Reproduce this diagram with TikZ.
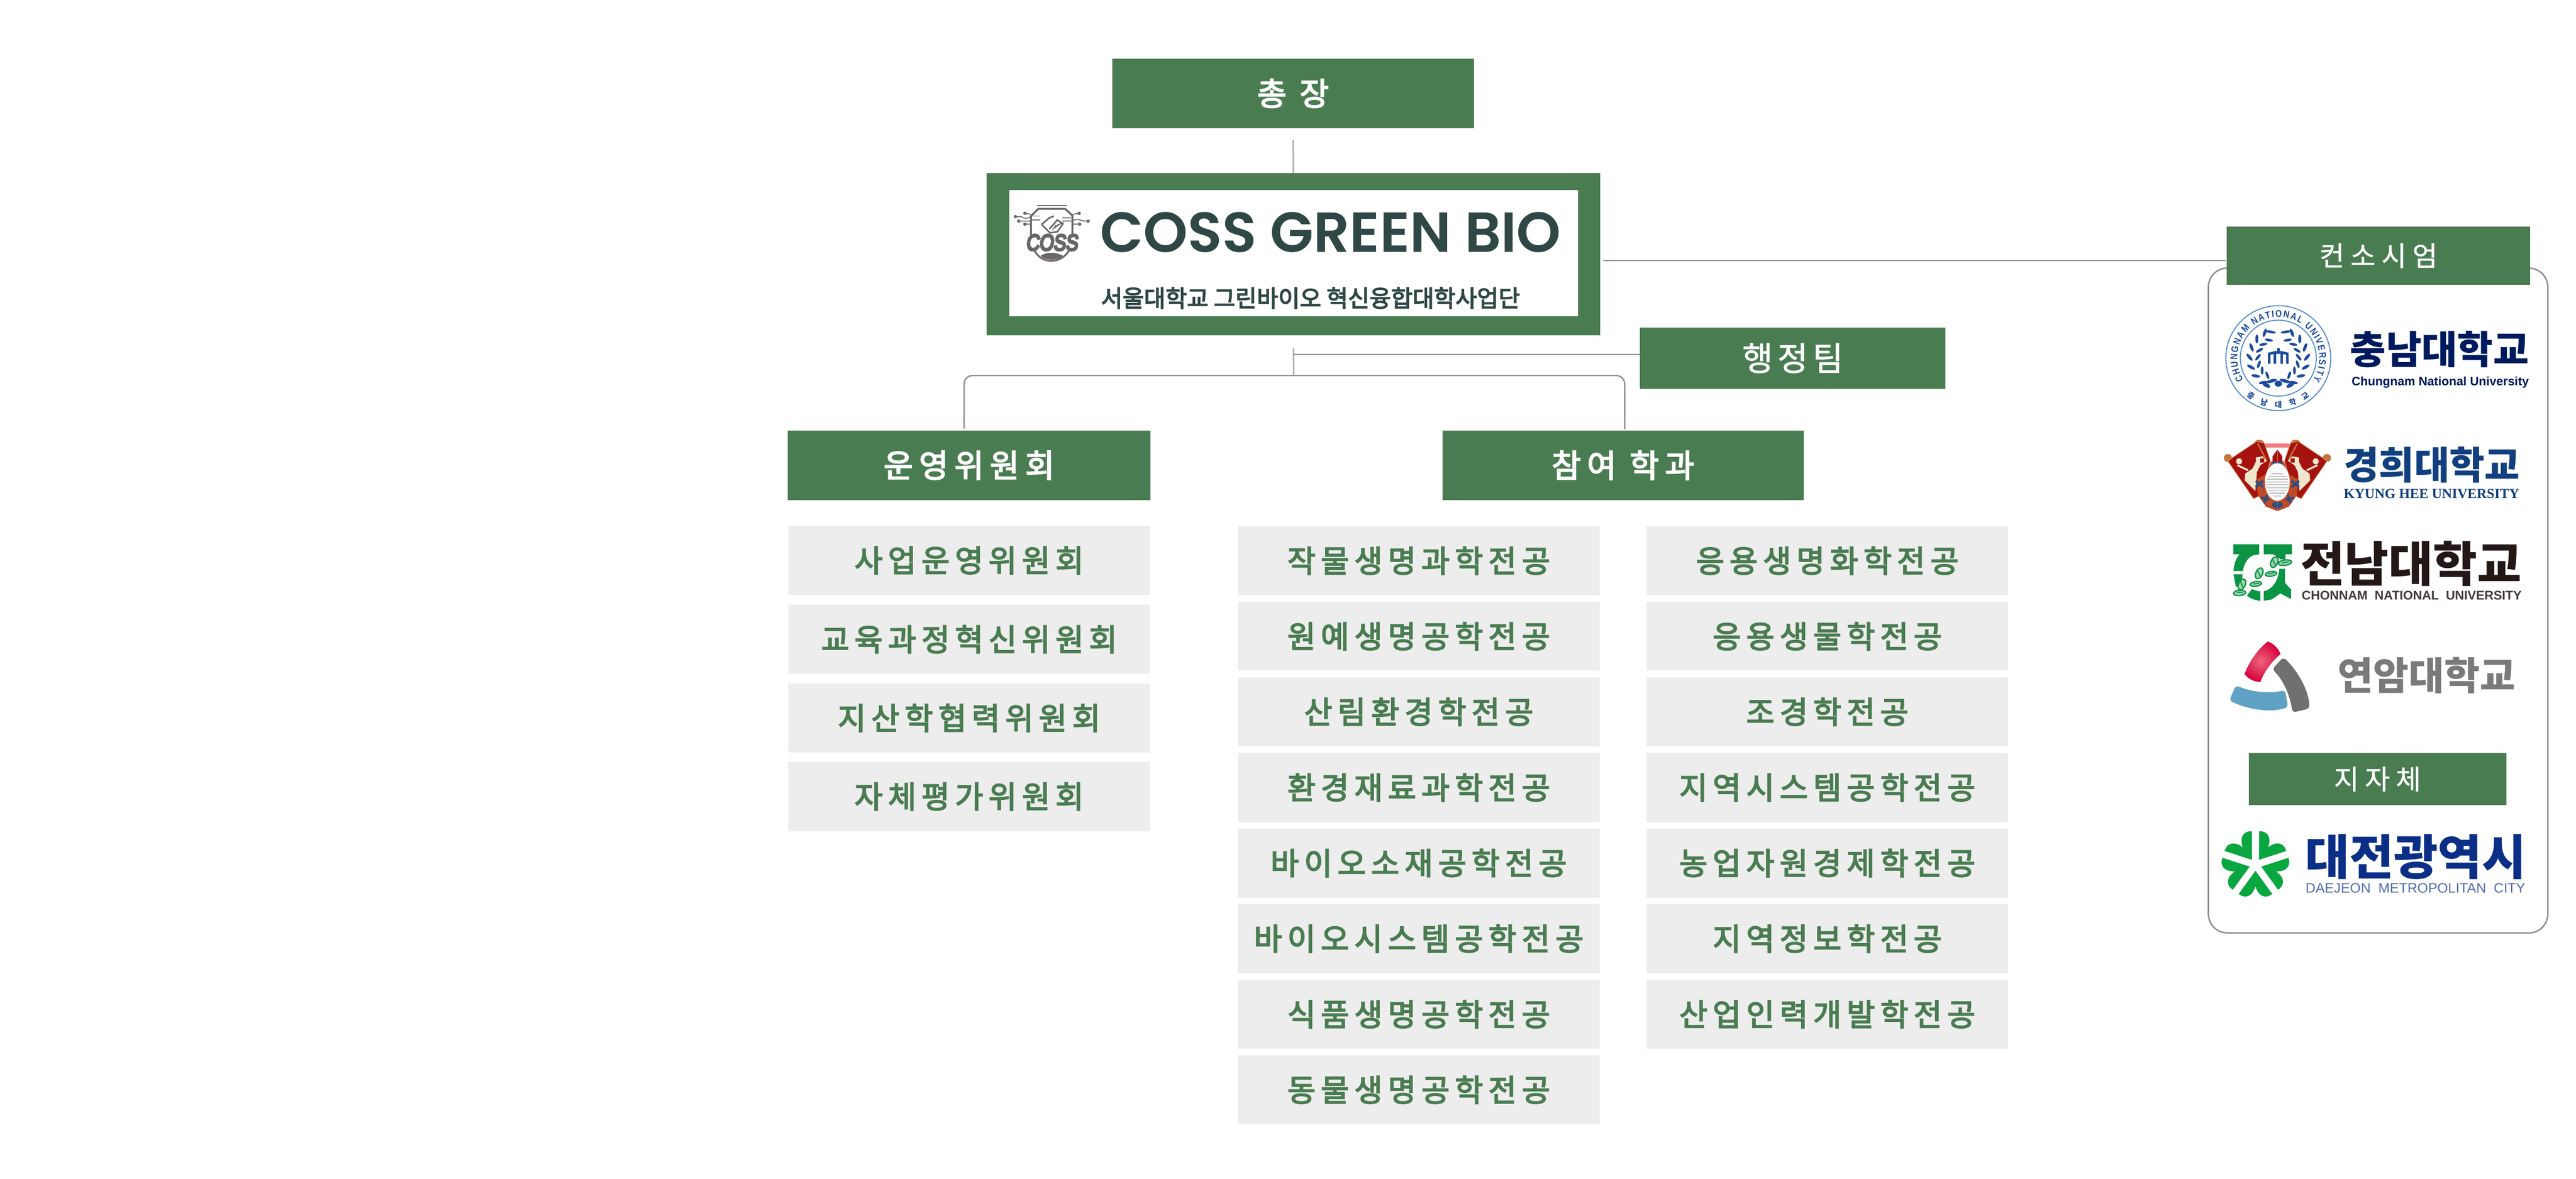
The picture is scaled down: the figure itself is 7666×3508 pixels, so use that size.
\documentclass[tikz,border=0pt]{standalone}
\usepackage{fontspec}
\usepackage{graphicx}
\usetikzlibrary{decorations.text}
\newfontfamily\kr{Noto Sans CJK KR}
\newfontfamily\krsp[LetterSpace=17,FakeBold=3.5]{Noto Sans CJK KR}
\newfontfamily\krw[LetterSpace=14,FakeBold=1.5]{Noto Sans CJK KR}
\newfontfamily\krhd[LetterSpace=19,FakeBold=3.5]{Noto Sans CJK KR}
\newfontfamily\krsm[LetterSpace=22,FakeBold=1]{Noto Sans CJK KR}
\newfontfamily\krmed[FakeBold=3.5]{Noto Sans CJK KR}
\newfontfamily\pop[UprightFont=* SemiBold]{Poppins}
\newfontfamily\lib{Liberation Sans}
\newfontfamily\libseal[FakeStretch=0.85]{Liberation Sans}
\newfontfamily\libx[FakeBold=9,FakeSlant=0.15]{Liberation Sans}
\newfontfamily\libs{Liberation Serif}
\newcommand{\fz}[1]{\fontsize{#1}{#1}\selectfont}
\definecolor{hdgreen}{HTML}{4A7C51}
\definecolor{lightgray}{HTML}{EDEDED}
\definecolor{linegray}{HTML}{ABABAB}
\definecolor{linedark}{HTML}{8C8C8C}
\definecolor{darkteal}{HTML}{2F4845}
\definecolor{emblemgray}{HTML}{6A6567}
\definecolor{cnunavy}{HTML}{001A5E}
\definecolor{cnuwreath}{HTML}{1C4A9C}
\definecolor{cnublue}{HTML}{5A8FD0}
\definecolor{khublue}{HTML}{123F7F}
\definecolor{khured}{HTML}{A5120F}
\definecolor{khutan}{HTML}{C4763A}
\definecolor{khuband}{HTML}{BE4A28}
\definecolor{khucream}{HTML}{F0E6CC}
\definecolor{khunavy}{HTML}{2A4F80}
\definecolor{jnugreen}{HTML}{0A9444}
\definecolor{jnublack}{HTML}{231815}
\definecolor{yared}{HTML}{D5003A}
\definecolor{yablue}{HTML}{5FA2C6}
\definecolor{yagray}{HTML}{707070}
\definecolor{djnavy}{HTML}{0B2F87}
\definecolor{djgreen}{HTML}{0AA640}
\tikzset{
  gbox/.style={fill=hdgreen,text=white,inner sep=0pt,align=center},
  lbox/.style={fill=lightgray,text=hdgreen,inner sep=0pt,align=center,minimum width=10.75cm,minimum height=2.05cm,font=\krsp\fz{26}},
  conn/.style={draw=linegray,line width=1.2pt},
  conndark/.style={draw=linedark,line width=1.1pt},
  logotext/.style={inner sep=0pt},
  emb/.style={draw=emblemgray,line width=.8pt},
  leaf/.style={fill=cnuwreath},
  jlink/.style={fill=jnugreen!40!white,draw=jnugreen,line width=1.1pt},
}
\newcommand{\khuhalf}{%
  \fill[khutan] (60,205) circle[radius=.12cm];
  \fill[khutan] (340,75) ellipse[x radius=.15cm,y radius=.11cm];
  \fill[khured,draw=khutan!60!khucream,line width=.5pt] (60,235) -- (95,205) -- (320,55) -- (385,70) -- (440,230) -- (390,400) -- (340,545) -- (290,570) -- cycle;
  \draw[khutan,line width=1.2pt] (325,75) -- (400,215);
  \fill[khuband] (445,235) -- (400,350) -- (310,400) -- (330,540) -- (400,640) -- (502,680) -- (502,235) -- cycle;
  \fill[khucream] (160,235) circle[radius=.09cm];
  \draw[khucream,line width=1.6pt] (145,270) -- (240,315);
  \fill[khucream] (310,200) -- (370,190) -- (410,230) -- (350,270) -- (320,330) -- (305,500) -- (210,405) -- (215,345) -- (280,300) -- (310,240) -- cycle;
  \fill[khured] (350,210) rectangle (385,245);
  \draw[khunavy,line width=2pt] (310,410) -- (375,465) (375,410) -- (310,465);
  \draw[khunavy,line width=2pt] (355,560) -- (430,580) (410,535) -- (385,610);
  \fill[khured] (460,190) -- (502,130) -- (502,240) -- (460,240) -- cycle;
  \fill[khunavy] (455,235) -- (502,245) -- (502,258) -- (460,255) -- cycle;
  \fill[khunavy] (490,255) rectangle (502,300);
  \fill[khunavy] (502,600) -- (465,600) -- (450,630) -- (502,660) -- cycle;
}
\begin{document}
\begin{tikzpicture}[x=0.01cm,y=-0.01cm]
\useasboundingbox (0,0) rectangle (7666,3508);
\fill[white] (0,0) rectangle (7666,3508);

% frame of the consortium
\draw[draw=linedark,line width=1.2pt,rounded corners=16pt] (6572,798) rectangle (7582,2777);

% main boxes
\node[gbox,minimum width=10.75cm,minimum height=2.07cm,font=\krhd\fz{27}] (chief) at (3848,278) {총 장};
\node[fill=hdgreen,minimum width=18.25cm,minimum height=4.82cm,inner sep=0pt] (coss) at (3849,757) {};
\node[fill=white,minimum width=16.91cm,minimum height=3.75cm,inner sep=0pt] (cossin) at (3850,753) {};
\node[logotext,text=darkteal] (cosstitle) at (3960,692) {\resizebox{13.7cm}{!}{\pop COSS GREEN BIO}};
\node[logotext,text=darkteal] (cosssub) at (3900,887) {\resizebox{12.46cm}{!}{\krmed 서울대학교 그린바이오 혁신융합대학사업단}};
\node[gbox,minimum width=9.08cm,minimum height=1.83cm,font=\krw\fz{28}] (admin) at (5335,1066) {행정팀};
\node[gbox,minimum width=10.79cm,minimum height=2.06cm,font=\krhd\fz{27}] (oper) at (2884,1385) {운영위원회};
\node[gbox,minimum width=10.75cm,minimum height=2.06cm,font=\krhd\fz{27}] (dept) at (4830,1385) {참여 학과};
\node[gbox,minimum width=9.02cm,minimum height=1.73cm,font=\krsm\fz{23}] (cons) at (7078,761) {컨소시엄};
\node[gbox,minimum width=7.66cm,minimum height=1.56cm,font=\krsm\fz{23}] (local) at (7075,2319) {지자체};

% connectors
\coordinate (tj) at (3850,1055);
\coordinate (bus) at (3850,1118);
\coordinate (dl) at (2869,1276);
\coordinate (dr) at (4835,1277);
\coordinate (ce) at (4771,776);
\coordinate (cw) at (6624,776);
\draw[conn,shorten <=8\pgflinewidth] (chief.south) -- (coss.north);
\draw[conn,shorten <=9\pgflinewidth] (coss.south) -- (bus);
\draw[conndark] (tj) -- (tj -| admin.west);
\draw[conndark,rounded corners=7pt] (dl) |- (bus) -| (dr);
\draw[conndark] (ce) -- (cw);

% operating committee
\foreach \n/\y/\t in {o1/1668/사업운영위원회,o2/1903/교육과정혁신위원회,o3/2137/지산학협력위원회,o4/2371/자체평가위원회}
  \node[lbox,minimum width=10.76cm,minimum height=2.06cm] (\n) at (2884,\y) {\t};
% departments, left
\foreach \n/\y/\t in {a1/1669/작물생명과학전공,a2/1894/원예생명공학전공,a3/2119/산림환경학전공,a4/2344/환경재료과학전공,a5/2569/바이오소재공학전공,a6/2794/바이오시스템공학전공,a7/3019/식품생명공학전공,a8/3244/동물생명공학전공}
  \node[lbox] (\n) at (4222,\y) {\t};
% departments, right
\foreach \n/\y/\t in {b1/1669/응용생명화학전공,b2/1894/응용생물학전공,b3/2119/조경학전공,b4/2344/지역시스템공학전공,b5/2569/농업자원경제학전공,b6/2794/지역정보학전공,b7/3019/산업인력개발학전공}
  \node[lbox] (\n) at (5438,\y) {\t};

% --- COSS emblem
\begin{scope}[shift={(3000,560)},x=.00333cm,y=-.00333cm]
  \draw[emb,line width=1.2pt] (258,155) -- (525,155);
  \draw[emb,line width=1.6pt] (205,420) -- (205,250) -- (270,185) -- (510,185) -- (575,245) -- (575,420);
  \draw[emb] (215,250) -- (285,250) (215,285) -- (285,285) (485,265) -- (565,265) (485,295) -- (565,295);
  \draw[emb] (65,255) -- (120,255) .. controls (150,280) and (170,270) .. (205,255);
  \draw[emb] (95,295) -- (205,295) (150,225) -- (205,235) (150,322) -- (205,322);
  \draw[emb] (575,235) -- (635,225) (575,322) -- (640,322);
  \draw[emb] (575,295) .. controls (620,260) and (650,300) .. (715,295);
  \foreach \p in {(65,255),(95,295),(150,225),(150,322),(635,225),(715,295),(640,322)}
    \fill[emblemgray] \p circle[radius=.05cm];
  \draw[emb,line width=1.3pt] (300,325) -- (370,265) -- (410,250) (300,325) -- (375,400) -- (440,390) -- (490,320) -- (440,285) -- (370,365);
  \foreach \k in {0,1,2,3} \draw[emb] ({395+\k*22},{375-\k*18}) -- ({430+\k*22},{330+\k*-8});
  \draw[emb,line width=1.5pt] (235,555) .. controls (270,625) and (330,650) .. (385,650) .. controls (450,650) and (510,620) .. (550,550);
  \fill[emblemgray] (290,605) .. controls (340,570) and (430,570) .. (490,605) .. controls (450,650) and (330,650) .. (290,605) -- cycle;
\end{scope}
\node[logotext,text=emblemgray] (cosslogo) at (3130,722) {\resizebox{1.54cm}{.47cm}{\libx COSS}};

% --- Chungnam seal
\begin{scope}[shift={(6780,1066)}]
  \draw[cnublue,line width=.9pt] (0,0) circle[radius=1.56cm];
  \draw[cnublue,line width=.9pt] (0,0) circle[radius=1.13cm];
  \path[decorate,decoration={text along path,text align={fit to path},text={|\libseal\bfseries\fz{8.2}\color{cnuwreath}|CHUNGNAM NATIONAL UNIVERSITY}}]
    (212:1.22cm) arc[start angle=212,end angle=-32,radius=1.22cm];
  \path[decorate,decoration={text along path,text align={fit to path},text={|\kr\bfseries\fz{6.5}\color{cnuwreath}|충남대학교}}]
    (230:1.47cm) arc[start angle=230,end angle=310,radius=1.47cm];
  \foreach \s in {1,-1} {
    \begin{scope}[xscale=\s]
      \foreach \a in {-60,-40,...,60} {
        \fill[leaf] (\a:.84cm) ++(\a+60:.03cm) ellipse[x radius=.13cm,y radius=.045cm,rotate=\a+50];
        \fill[leaf] (\a:.62cm) ++(\a+120:.03cm) ellipse[x radius=.12cm,y radius=.04cm,rotate=\a+130];
      }
      \fill[leaf] (.22cm,.78cm) ellipse[x radius=.15cm,y radius=.04cm,rotate=10];
      \fill[leaf] (.2cm,-.68cm) ellipse[x radius=.16cm,y radius=.05cm,rotate=-15];
      \fill[leaf] (.36cm,-.8cm) ellipse[x radius=.13cm,y radius=.06cm,rotate=30];
    \end{scope}
  }
  \fill[leaf] (0,-.76cm) ellipse[x radius=.11cm,y radius=.09cm];
  \begin{scope}[draw=cnuwreath,line width=2.1pt]
    \draw (-.27cm,-.17cm) -- (-.27cm,.13cm) -- (-.1cm,.17cm) -- (-.1cm,-.17cm);
    \draw (.27cm,-.17cm) -- (.27cm,.13cm) -- (.1cm,.17cm) -- (.1cm,-.17cm);
    \draw (-.1cm,.17cm) -- (.1cm,.17cm);
    \draw (0,.12cm) -- (0,.3cm);
  \end{scope}
\end{scope}
\node[logotext,text=cnunavy] (cnuk) at (7260,1040) {\resizebox{5.31cm}{!}{\kr\bfseries 충남대학교}};
\node[logotext,text=cnunavy] (cnue) at (7262,1139) {\resizebox{5.27cm}{!}{\lib\bfseries Chungnam National University}};

% --- Kyung Hee emblem
\begin{scope}[shift={(6610,1295)},x=.00333cm,y=-.00333cm]
  \fill[red!50!white!90!gray] (395,75) rectangle (610,110);
  \khuhalf
\end{scope}
\begin{scope}[shift={(6944.7,1295)},x=-.00333cm,y=-.00333cm]
  \khuhalf
\end{scope}
\begin{scope}[shift={(6610,1295)},x=.00333cm,y=-.00333cm]
  \fill[white!96!gray] (502,420) ellipse[x radius=.37cm,y radius=.56cm];
  \foreach \y/\w in {345/50,370/80,395/95,420/105,445/100,470/100,495/80,520/70,545/35}
    \draw[gray!45,line width=1pt] ({502-\w},\y) -- ({502+\w},\y);
\end{scope}
\node[logotext,text=khublue] (khuk) at (7237,1384) {\resizebox{5.24cm}{!}{\kr\bfseries 경희대학교}};
\node[logotext,text=khublue] (khue) at (7236,1470) {\resizebox{5.22cm}{!}{\libs\bfseries KYUNG HEE UNIVERSITY}};

% --- Chonnam emblem
\begin{scope}[shift={(6630,1605)},x=.00333cm,y=-.00333cm]
  \fill[jnugreen] (48,45) -- (280,45) -- (280,135) -- (225,145) .. controls (175,165) and (140,225) .. (135,285) -- (50,285) .. controls (55,220) and (70,175) .. (105,135) -- (48,135) -- cycle;
  \fill[jnugreen] (320,45) -- (572,45) -- (572,135) -- (515,135) -- (515,180) -- (470,180) .. controls (450,160) and (420,140) .. (400,135) -- (320,135) -- cycle;
  \fill[jnugreen] (460,265) -- (510,265) -- (510,390) -- (565,450) -- (565,535) -- (470,485) -- (390,540) -- (320,550) -- (320,465) .. controls (390,455) and (450,380) .. (460,265) -- cycle;
  \fill[jnugreen] (50,315) -- (130,315) -- (130,340) -- (95,430) -- (70,420) -- cycle;
  \fill[jnugreen] (215,445) .. controls (240,460) and (265,465) .. (290,465) -- (290,552) .. controls (240,545) and (200,530) .. (170,505) -- cycle;
  \foreach \x/\y/\a/\rx/\ry in {105/480/5/.18/.08,125/405/65/.17/.1,250/400/8/.17/.07,280/305/65/.17/.1,385/310/8/.17/.07,415/205/65/.17/.1,510/210/8/.2/.08}
    \filldraw[jlink] (\x,\y) ellipse[x radius=\rx cm,y radius=\ry cm,rotate=\a];
  \draw[jnugreen,line width=.9pt] (80,475) -- (135,475) (110,375) -- (135,430) (225,400) -- (280,395) (260,275) -- (295,340) (360,310) -- (415,300) (395,175) -- (430,240) (480,215) -- (545,200);
\end{scope}
\node[logotext,text=jnublack] (jnuk) at (7175,1678) {\resizebox{6.58cm}{!}{\kr\bfseries 전남대학교}};
\node[logotext,text=jnublack!85!white] (jnue) at (7177,1772) {\resizebox{6.54cm}{!}{\lib\bfseries CHONNAM\ \ NATIONAL\ \ UNIVERSITY}};

% --- Yeonam emblem
\begin{scope}
  \clip[rounded corners=3pt] (6672,2033) .. controls (6687,1975) and (6722,1925) .. (6771,1895) -- (6805,1933) .. controls (6767,1960) and (6735,2000) .. (6720,2050) -- cycle;
  \shade[inner color=red!35!yared!60!white,outer color=yared] (6728,1968) circle[radius=.62cm];
\end{scope}
\fill[yablue,rounded corners=3pt] (6654,2040) .. controls (6700,2060) and (6755,2065) .. (6800,2054) -- (6809,2105) .. controls (6755,2122) and (6690,2112) .. (6634,2085) -- cycle;
\fill[yagray,rounded corners=3pt] (6795,1956) .. controls (6840,2000) and (6870,2055) .. (6873,2109) -- (6822,2121) .. controls (6815,2070) and (6795,2025) .. (6762,1992) -- cycle;
\node[logotext,text=black!52] (yau) at (7221,2010) {\resizebox{5.28cm}{!}{\kr\bfseries 연암대학교}};

% --- Daejeon emblem
\foreach \a in {54,126,198,270,342} {
  \begin{scope}[shift={(6712,2574)},rotate=\a-90,x=.01cm,y=.01cm]
    \fill[djgreen] (0,18) -- (-50,87) .. controls (-28,104) and (-8,92) .. (0,64) .. controls (8,92) and (28,104) .. (50,87) -- cycle;
  \end{scope}
}
\node[logotext,text=djnavy] (djk) at (7189,2551) {\resizebox{6.58cm}{!}{\kr\bfseries 대전광역시}};
\node[logotext,text=djnavy!70!white] (dje) at (7188,2644) {\resizebox{6.53cm}{!}{\lib DAEJEON\ \ METROPOLITAN\ \ CITY}};
\end{tikzpicture}
\end{document}
